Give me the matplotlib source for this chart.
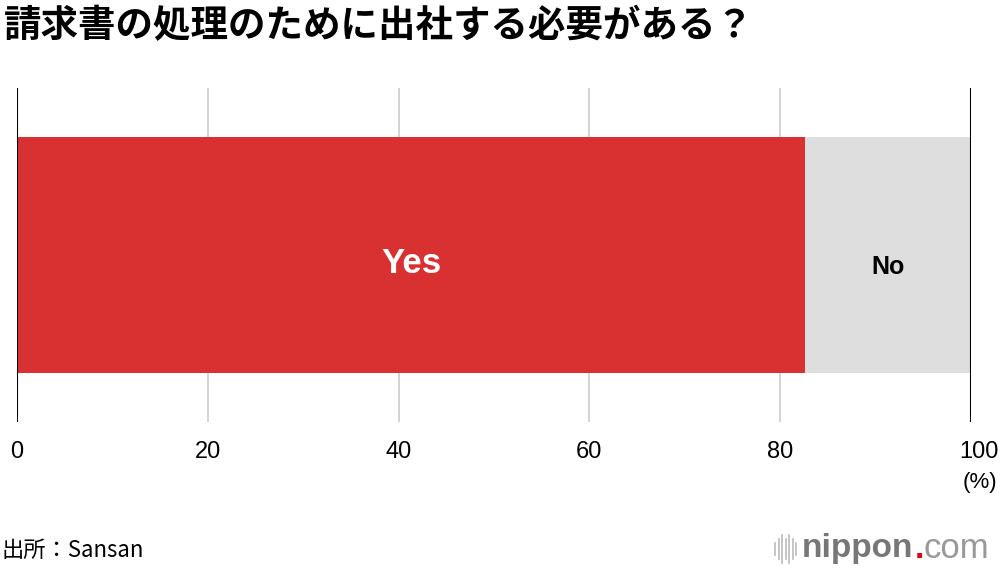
import matplotlib
matplotlib.use("Agg")
import matplotlib.pyplot as plt
import matplotlib.transforms as mtransforms
from matplotlib.lines import Line2D

plt.rcParams['font.family'] = ['Noto Sans CJK JP', 'DejaVu Sans']

title = "請求書の処理のために出社する必要がある？"
labels = ["Yes", "No"]
values = [82.6, 17.4]
colors = ["#d93131", "#dedede"]
ticks = [0, 20, 40, 60, 80, 100]
source = "出所：Sansan"

fig = plt.figure(figsize=(10, 5.7), dpi=100)
ax = fig.add_axes([0.017, 0.2596, 0.954, 0.5860])

left = 0
for lab, v, c in zip(labels, values, colors):
    ax.barh(0, v, left=left, height=1.0, color=c, zorder=2)
    if lab == "Yes":
        ax.text(left + v / 2, -0.035, lab, ha='center', va='center', color='white',
                fontsize=25, fontweight='bold', family=['Liberation Sans'], zorder=3)
    else:
        ax.text(left + v / 2, -0.05, lab, ha='center', va='center', color='black',
                fontsize=18, fontweight='bold', family=['Liberation Sans'], zorder=3)
    left += v

ax.set_xlim(0, 100)
ax.set_ylim(-0.708, 0.708)
for t in ticks:
    col = 'black' if t in (0, 100) else '#cccccc'
    lw = 1.5 if t in (0, 100) else 1.2
    ax.axvline(t, color=col, lw=lw, zorder=1 if col != 'black' else 4)

for s in ax.spines.values():
    s.set_visible(False)
ax.set_yticks([])
ax.set_xticks(ticks)
ax.set_xticklabels([str(t) for t in ticks], fontsize=17, family=['Liberation Sans'])
ax.tick_params(axis='x', length=0, pad=14)
last = ax.get_xticklabels()[-1]
last.set_transform(last.get_transform() + mtransforms.ScaledTranslation(0.08, 0, fig.dpi_scale_trans))
ax.set_facecolor('none')

fig.text(0.997, 0.153, "(%)", ha='right', va='center', fontsize=16, family=['Liberation Sans'])
fig.text(0.004, 0.955, title, ha='left', va='center', fontsize=27, fontweight='bold')
fig.text(0.002, 0.035, source, ha='left', va='center', fontsize=16)

# nippon.com logo
for i, h in enumerate([0.02, 0.035, 0.05, 0.035, 0.05, 0.035, 0.02]):
    x = 0.775 + i * 0.0035
    fig.add_artist(Line2D([x, x], [0.037 - h / 2, 0.037 + h / 2], color='#bbbbbb', lw=1.2))
t1 = fig.text(0.802, 0.037, "nippon", ha='left', va='center', fontsize=24, color='#777777',
              fontweight='bold', family=['Liberation Sans'])
t2 = fig.text(0, 0, ".", ha='left', va='baseline', fontsize=24, color='#e60012',
              fontweight='bold', family=['Liberation Sans'])
t3 = fig.text(0, 0, "com", ha='left', va='baseline', fontsize=25, color='#999999',
              family=['Liberation Sans'])
fig.canvas.draw()
r = fig.canvas.get_renderer()
bb = t1.get_window_extent(r).transformed(fig.transFigure.inverted())
t2.set_position((bb.x1 + 0.001, bb.y0 + 0.012))
bb2 = t2.get_window_extent(r).transformed(fig.transFigure.inverted())
t3.set_position((bb.x1 + 0.001 + bb2.width, bb.y0 + 0.012))

fig.savefig("out.png", dpi=100)
